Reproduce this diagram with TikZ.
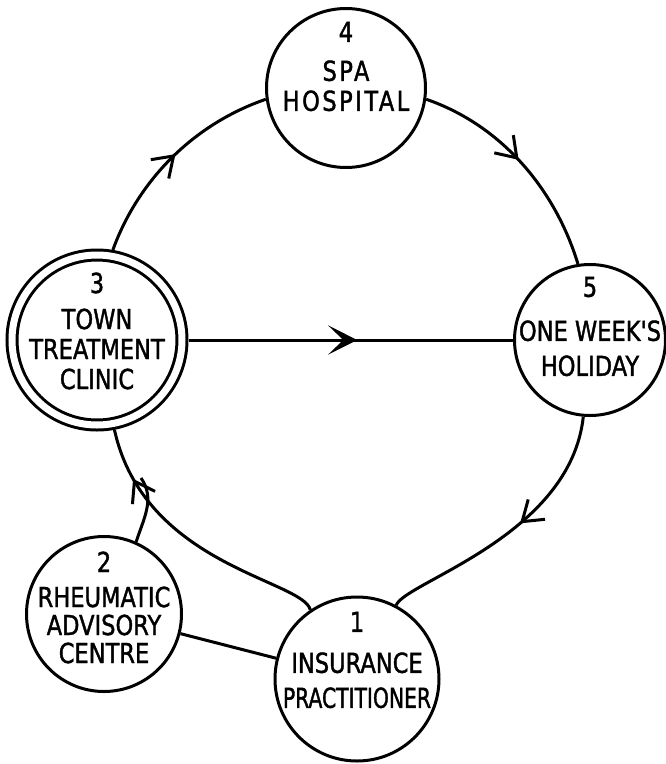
\documentclass[tikz,border=0pt]{standalone}
\usepackage{fontspec}
\usepackage{graphicx}
\usetikzlibrary{arrows.meta,decorations.markings}
\newfontfamily\letterfont[FakeStretch=0.82,FakeBold=1.4]{DejaVu Sans}

\tikzset{
  barb/.tip={Straight Barb[length=19pt,width=26pt]},
  dart/.tip={Stealth[length=29pt,width=29pt,inset=15pt]},
  station/.style={draw,circle,line width=3pt,inner sep=0pt},
  caption/.style={align=center,inner sep=0pt,font=\letterfont\fontsize{27.5}{30}\selectfont},
  wide/.style={font=\letterfont\addfontfeatures{LetterSpace=9}\fontsize{27.5}{30}\selectfont},
  link/.style={line width=3pt},
  midarrow/.style 2 args={postaction={decorate},
    decoration={markings,mark=at position #1 with {\arrow{#2}}}},
}

\begin{document}
\begin{tikzpicture}[x=1pt,y=1pt]
\useasboundingbox (0,0) rectangle (666,-764);
% stations
\node[station,minimum size=159pt] (spa) at (346,-88) {};
\node[station,minimum size=151pt] (holiday) at (590,-340) {};
\node[station,minimum size=170pt,double,double distance=7pt,outer sep=6.5pt] (clinic) at (97,-340) {};
\node[station,minimum size=155pt] (advisory) at (104,-614) {};
\node[station,minimum size=164pt] (practitioner) at (357,-679) {};
% captions
\node[caption,wide] (spa-text) at ([yshift=21.5pt]spa.center) {4\\[9pt]SPA\\HOSPITAL};
\node[caption] (holiday-text) at ([yshift=13.5pt]holiday.center) {5\\[14pt]ONE WEEK'S\\[5pt]HOLIDAY};
\node[caption] (clinic-text) at ([yshift=9pt]clinic.center) {3\\[6pt]TOWN\\TREATMENT\\CLINIC};
\node[caption] (advisory-text) at ([yshift=6.5pt]advisory.center) {2\\[5pt]RHEUMATIC\\[-2pt]ADVISORY\\[-2pt]CENTRE};
\node[caption] (practitioner-text) at ([yshift=19pt]practitioner.center) {1\\[11pt]INSURANCE\\[5pt]\scalebox{0.9}[1]{PRACTITIONER}};
% the round
\draw[link,midarrow={0.52}{barb}] (clinic.80) to[out=70,in=199,looseness=0.9] (spa.188);
\draw[link,midarrow={0.48}{barb}] (spa.-8) to[out=-19,in=107,looseness=0.9] (holiday.99);
\draw[link,midarrow={0.46}{barb}] (holiday.-95) .. controls +(-13,-120) and +(8,23) .. (practitioner.62);
\draw[link,midarrow={0.81}{barb}] (practitioner.124) .. controls +(-8,30) and +(30,-136) .. (clinic.-79);
% short cuts
\coordinate (join) at (141,-478);
\draw[link] (advisory.66) to[out=72,in=-55] (join);
\draw[link,midarrow={0.52}{dart}] (clinic) -- (holiday);
\draw[link] (advisory) -- (practitioner);
\end{tikzpicture}
\end{document}
